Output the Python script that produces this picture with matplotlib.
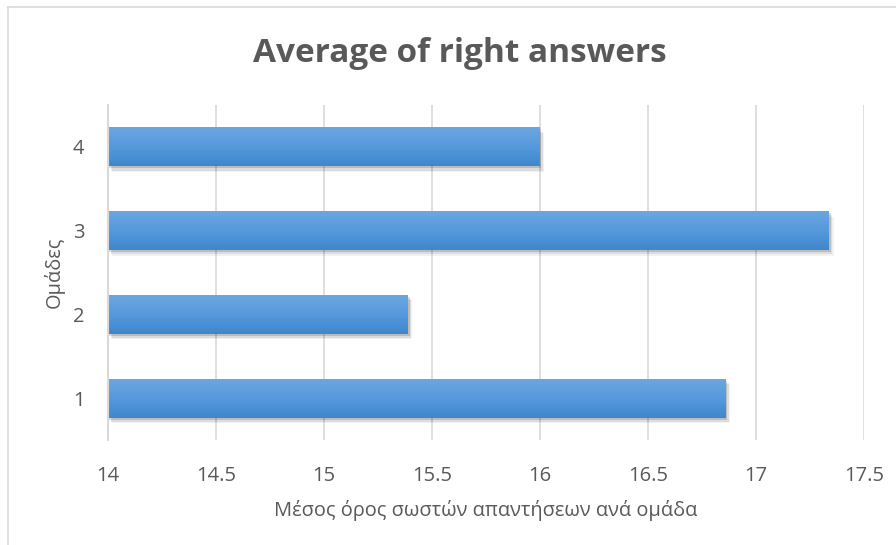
import numpy as np
import matplotlib
matplotlib.use("Agg")
import matplotlib.pyplot as plt
import matplotlib.patheffects as pe
from matplotlib.colors import LinearSegmentedColormap
from matplotlib.lines import Line2D

# Average right answers per group
groups = ["1", "2", "3", "4"]
averages = [16.86, 15.39, 17.34, 16.0]
x_ticks = [14, 14.5, 15, 15.5, 16, 16.5, 17, 17.5]
x_min, x_max = 14, 17.5

TEXT = "#595959"
GRID = "#d9d9d9"

plt.rcParams["font.family"] = ["Open Sans", "DejaVu Sans"]

fig = plt.figure(figsize=(8.96, 5.45), dpi=100)
ax = fig.add_axes([108 / 896, 105 / 545, 756 / 896, 335 / 545])

ypos = np.arange(len(groups))

# soft drop shadow built from a few stacked offset shadows
shadow = [
    pe.SimplePatchShadow(offset=(3, -4), shadow_rgbFace="#000000", alpha=0.05),
    pe.SimplePatchShadow(offset=(2, -3), shadow_rgbFace="#000000", alpha=0.09),
    pe.SimplePatchShadow(offset=(1, -1.5), shadow_rgbFace="#000000", alpha=0.14),
    pe.Normal(),
]
# bars start at the left edge of the value axis
bars = ax.barh(ypos, np.subtract(averages, x_min), left=x_min, height=0.465,
               color="#4f92d6", zorder=3, path_effects=shadow)

# vertical gradient fill on each bar
grad_cmap = LinearSegmentedColormap.from_list("bar", ["#3f87cb", "#5799dd", "#6ba7e0"])
grad = np.linspace(0, 1, 64).reshape(-1, 1)
for b in bars:
    x0, y0, w, h = b.get_x(), b.get_y(), b.get_width(), b.get_height()
    im = ax.imshow(grad, cmap=grad_cmap, aspect="auto", origin="lower",
                   extent=(x0, x0 + w, y0, y0 + h), zorder=4, interpolation="bilinear")
    im.set_clip_path(b.get_path(), b.get_transform())

ax.set_xlim(x_min, x_max)
ax.set_ylim(-0.5, len(groups) - 0.5)
ax.set_xticks(x_ticks)
ax.set_xticklabels([f"{t:g}" for t in x_ticks])
ax.set_yticks(ypos)
ax.set_yticklabels(groups)

ax.grid(axis="x", color=GRID, linewidth=1.2, zorder=0)
ax.grid(axis="y", visible=False)
for side in ["top", "right", "bottom"]:
    ax.spines[side].set_visible(False)
ax.spines["left"].set_color(GRID)
ax.spines["left"].set_linewidth(1.5)
ax.spines["left"].set_zorder(5)

ax.tick_params(axis="both", length=0, labelsize=14.5, colors=TEXT)
ax.tick_params(axis="x", pad=19)
ax.tick_params(axis="y", pad=17)

ax.set_xlabel("Μέσος όρος σωστών απαντήσεων ανά ομάδα", fontsize=14.4, color=TEXT, labelpad=10)
ax.set_ylabel("Ομάδες", fontsize=14.4, color=TEXT, labelpad=6)

fig.text(460 / 896, 1 - 54 / 545, "Average of right answers", ha="center", va="center",
         fontsize=24, fontweight="bold", color=TEXT)

# chart area border (top and left edges)
fig.add_artist(Line2D([8 / 896, 1], [1 - 6.5 / 545, 1 - 6.5 / 545], color=GRID, linewidth=1.2))
fig.add_artist(Line2D([8 / 896, 8 / 896], [0, 1 - 6.5 / 545], color=GRID, linewidth=1.2))

fig.savefig("out.png", dpi=100, facecolor="white")
